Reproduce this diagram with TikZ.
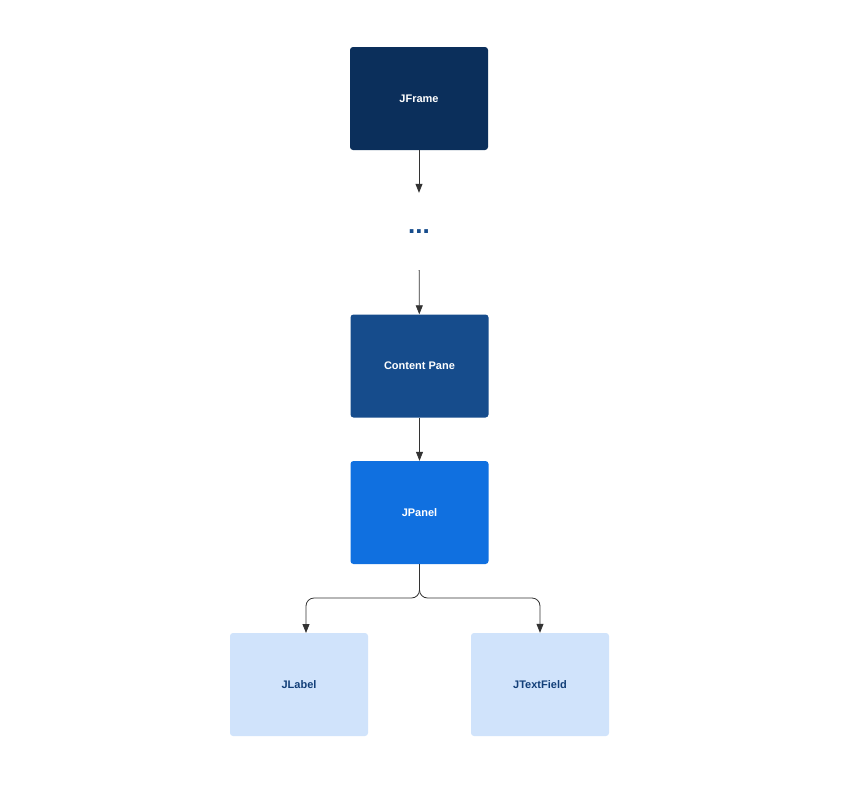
\documentclass[tikz,border=0pt]{standalone}
\usepackage{fontspec}
\setmainfont{Liberation Sans}
\usetikzlibrary{arrows.meta}
\definecolor{navy}{HTML}{0B2F5B}
\definecolor{mid}{HTML}{164C8C}
\definecolor{bright}{HTML}{1070E0}
\definecolor{light}{HTML}{D0E3FB}
\definecolor{ltext}{HTML}{123F78}
\definecolor{arr}{HTML}{333333}
\begin{document}
\begin{tikzpicture}[x=1pt,y=-1pt,
  box/.style={rounded corners=3pt,minimum width=138pt,minimum height=103pt,inner sep=0pt,font=\bfseries\fontsize{11}{13}\selectfont},
  dark/.style={box,fill=#1,text=white},
  pale/.style={box,fill=light,text=ltext},
  con/.style={draw=arr,line width=0.8pt,-{Triangle[length=9pt,width=7pt]}}]
\useasboundingbox (0,0) rectangle (849,790);
\node[dark=navy] (jf) at (419,98.5) {JFrame};
\node[minimum width=60pt,minimum height=77pt,inner sep=0pt,text=mid,font=\bfseries\fontsize{26}{26}\selectfont] (dots) at (419,231.5) {...};
\node[dark=mid] (cp) at (419.5,366) {Content Pane};
\node[dark=bright] (jp) at (419.5,512.5) {JPanel};
\node[pale] (jl) at (299,684.5) {JLabel};
\node[pale] (jt) at (540,684.5) {JTextField};
\draw[con] (jf) -- (dots);
\draw[con] (dots) -- (cp);
\draw[con] (cp) -- (jp);
\draw[con,rounded corners=8pt] (jp.south) -- (419.5,598) -| (306,633);
\draw[con,rounded corners=8pt] (jp.south) -- (419.5,598) -| (jt.north);
\end{tikzpicture}
\end{document}
